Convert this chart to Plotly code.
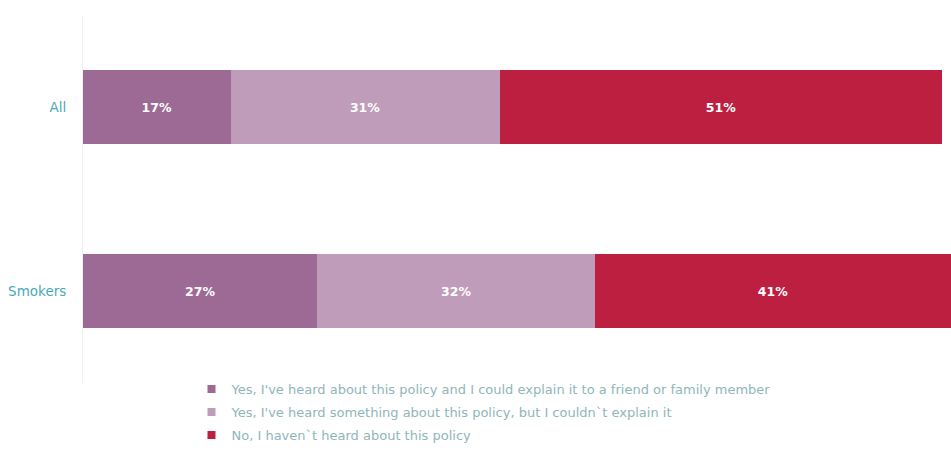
import plotly.graph_objects as go

# Survey groups and answer shares (%)
groups = ["All", "Smokers"]
answers = [
    "Yes, I've heard about this policy and I could explain it to a friend or family member",
    "Yes, I've heard something about this policy, but I couldn`t explain it",
    "No, I haven`t heard about this policy",
]
explain_vals = [17, 27]
heard_vals = [31, 32]
not_heard_vals = [51, 41]
colors = ["#9d6a96", "#bf9cb9", "#bd1f41"]

FONT = "DejaVu Sans"

fig = go.Figure()
for name, vals, col in zip(answers, [explain_vals, heard_vals, not_heard_vals], colors):
    fig.add_trace(go.Bar(
        y=groups, x=vals, name=name, orientation="h",
        marker=dict(color=col, line=dict(width=0)),
        width=0.4,
        text=[f"<b>{v}%</b>" for v in vals], textposition="inside",
        insidetextanchor="middle",
        textfont=dict(color="white", size=12.5, family=FONT),
        hoverinfo="skip", showlegend=False,
    ))

# Legend entries with small square swatches, one group each for spacing
for name, col in zip(answers, colors):
    fig.add_trace(go.Scatter(
        x=[None], y=[None], mode="markers", name=name, legendgroup=name,
        marker=dict(symbol="square", size=8, color=col),
        hoverinfo="skip",
    ))

fig.update_layout(
    barmode="stack",
    width=951, height=456,
    margin=dict(l=83, r=0, t=15, b=73),
    paper_bgcolor="white", plot_bgcolor="white",
    font=dict(family=FONT, size=12),
    showlegend=True,
    legend=dict(
        orientation="v", traceorder="grouped",
        x=0.125, xanchor="left", y=0.024, yanchor="top",
        font=dict(size=13, color="#8fb6ba", family=FONT),
        itemwidth=30, tracegroupgap=3,
    ),
    xaxis=dict(range=[0, 100], visible=False, fixedrange=True),
    yaxis=dict(
        autorange="reversed",
        showgrid=False, zeroline=False,
        showline=True, linecolor="#f1f1f1", linewidth=1,
        tickfont=dict(color="#4aa9b8", size=13.5, family=FONT),
        ticklabelstandoff=13,
    ),
    bargap=0.6,
)

fig.write_html("out.html")
